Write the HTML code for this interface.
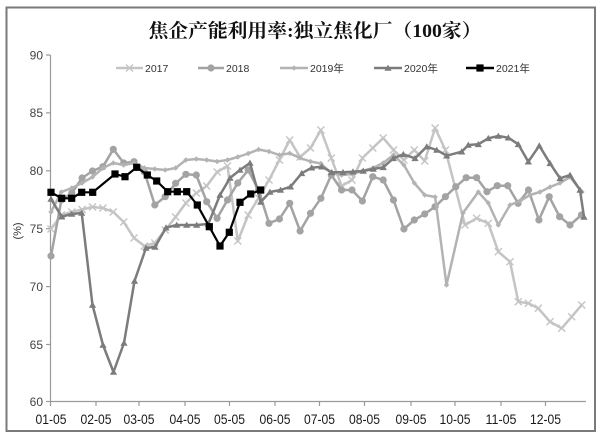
<!DOCTYPE html>
<html><head><meta charset="utf-8"><style>
html,body{margin:0;padding:0;background:#fff;}
svg{display:block;}
</style></head><body>
<svg width="600" height="439" viewBox="0 0 600 439" xmlns="http://www.w3.org/2000/svg">
<defs>
<marker id="mx" markerWidth="10" markerHeight="10" refX="5" refY="5" markerUnits="userSpaceOnUse"><path d="M1.5,1.5 L8.5,8.5 M8.5,1.5 L1.5,8.5" stroke="#c4c4c4" stroke-width="1.4" fill="none"/></marker>
<marker id="mc" markerWidth="10" markerHeight="10" refX="5" refY="5" markerUnits="userSpaceOnUse"><circle cx="5" cy="5" r="3.6" fill="#a3a3a3"/></marker>
<marker id="md" markerWidth="10" markerHeight="10" refX="5" refY="5" markerUnits="userSpaceOnUse"><path d="M5,2.3 L7.7,5 L5,7.7 L2.3,5Z" fill="#b3b3b3"/></marker>
<marker id="mt" markerWidth="10" markerHeight="10" refX="5" refY="5" markerUnits="userSpaceOnUse"><path d="M5,1.6 L8.6,7.8 L1.4,7.8Z" fill="#7c7c7c"/></marker>
<marker id="ms" markerWidth="10" markerHeight="10" refX="5" refY="5" markerUnits="userSpaceOnUse"><rect x="1.4" y="1.4" width="7.2" height="7.2" fill="#000"/></marker>
</defs>
<rect x="0" y="0" width="600" height="439" fill="#fff"/>
<rect x="6.5" y="7.5" width="588.5" height="423.5" fill="#fff" stroke="#7a7a7a" stroke-width="2"/>

<!-- Title -->
<text x="315" y="37" text-anchor="middle" font-family="'Liberation Serif','Noto Serif CJK SC',serif" font-weight="700" font-size="19" fill="#111" textLength="333" lengthAdjust="spacingAndGlyphs">焦企产能利用率:独立焦化厂（100家）</text>

<!-- Legend -->
<g font-family="'Liberation Sans','Noto Sans CJK SC',sans-serif" font-size="10.5" fill="#333">
<polyline points="116,68 129.5,68 143,68" stroke="#c4c4c4" stroke-width="2.5" fill="none" marker-mid="url(#mx)"/>
<text x="145" y="72">2017</text>
<polyline points="198,68 211,68 224,68" stroke="#a3a3a3" stroke-width="2.5" fill="none" marker-mid="url(#mc)"/>
<text x="226" y="72">2018</text>
<polyline points="280,68 294,68 308,68" stroke="#b3b3b3" stroke-width="2.5" fill="none" marker-mid="url(#md)"/>
<text x="310" y="72">2019年</text>
<polyline points="374,68 388,68 402,68" stroke="#7c7c7c" stroke-width="2.5" fill="none" marker-mid="url(#mt)"/>
<text x="404" y="72">2020年</text>
<polyline points="466,68 480,68 494,68" stroke="#000" stroke-width="2.5" fill="none" marker-mid="url(#ms)"/>
<text x="496" y="72">2021年</text>
</g>

<!-- Axes -->
<g stroke="#9a9a9a" stroke-width="1.2" fill="none">
<line x1="50.5" y1="55" x2="50.5" y2="402"/>
<line x1="50" y1="401.5" x2="586" y2="401.5"/>
<line x1="46" y1="55" x2="50.5" y2="55"/>
<line x1="46" y1="112.9" x2="50.5" y2="112.9"/>
<line x1="46" y1="170.8" x2="50.5" y2="170.8"/>
<line x1="46" y1="228.7" x2="50.5" y2="228.7"/>
<line x1="46" y1="286.6" x2="50.5" y2="286.6"/>
<line x1="46" y1="344.5" x2="50.5" y2="344.5"/>
<line x1="46" y1="401.5" x2="50.5" y2="401.5"/>
<line x1="50.5" y1="401.5" x2="50.5" y2="406"/>
<line x1="96" y1="401.5" x2="96" y2="406"/>
<line x1="139" y1="401.5" x2="139" y2="406"/>
<line x1="185" y1="401.5" x2="185" y2="406"/>
<line x1="229.5" y1="401.5" x2="229.5" y2="406"/>
<line x1="275" y1="401.5" x2="275" y2="406"/>
<line x1="319.5" y1="401.5" x2="319.5" y2="406"/>
<line x1="364.5" y1="401.5" x2="364.5" y2="406"/>
<line x1="411" y1="401.5" x2="411" y2="406"/>
<line x1="455" y1="401.5" x2="455" y2="406"/>
<line x1="501" y1="401.5" x2="501" y2="406"/>
<line x1="545.5" y1="401.5" x2="545.5" y2="406"/>
</g>

<!-- Y labels -->
<g font-family="'Liberation Sans',sans-serif" font-size="12" fill="#444" text-anchor="end">
<text x="43" y="59.3">90</text>
<text x="43" y="117.2">85</text>
<text x="43" y="175.1">80</text>
<text x="43" y="233">75</text>
<text x="43" y="290.9">70</text>
<text x="43" y="348.8">65</text>
<text x="43" y="405.8">60</text>
</g>
<text x="0" y="0" transform="translate(21,231) rotate(-90)" text-anchor="middle" font-family="'Liberation Sans',sans-serif" font-size="11" fill="#333">(%)</text>

<!-- X labels -->
<g font-family="'Liberation Sans',sans-serif" font-size="14" fill="#1a1a1a" text-anchor="middle">
<text x="51" y="424" textLength="31" lengthAdjust="spacingAndGlyphs">01-05</text>
<text x="96" y="424" textLength="31" lengthAdjust="spacingAndGlyphs">02-05</text>
<text x="139" y="424" textLength="31" lengthAdjust="spacingAndGlyphs">03-05</text>
<text x="185" y="424" textLength="31" lengthAdjust="spacingAndGlyphs">04-05</text>
<text x="229.5" y="424" textLength="31" lengthAdjust="spacingAndGlyphs">05-05</text>
<text x="275" y="424" textLength="31" lengthAdjust="spacingAndGlyphs">06-05</text>
<text x="319.5" y="424" textLength="31" lengthAdjust="spacingAndGlyphs">07-05</text>
<text x="364.5" y="424" textLength="31" lengthAdjust="spacingAndGlyphs">08-05</text>
<text x="411" y="424" textLength="31" lengthAdjust="spacingAndGlyphs">09-05</text>
<text x="455" y="424" textLength="31" lengthAdjust="spacingAndGlyphs">10-05</text>
<text x="501" y="424" textLength="31" lengthAdjust="spacingAndGlyphs">11-05</text>
<text x="545.5" y="424" textLength="31" lengthAdjust="spacingAndGlyphs">12-05</text>
</g>

<!-- 2017 -->
<polyline fill="none" stroke="#c4c4c4" stroke-width="2.5" stroke-linejoin="round" marker-start="url(#mx)" marker-mid="url(#mx)" marker-end="url(#mx)" points="51,229 61.4,215 71.8,212 82.1,209.5 92.5,207 102.9,208 113.3,212 123.7,222 134,238 144.4,246 154.8,243 165.2,230 175.6,217 185.9,203 196.3,193 206.7,186 217.1,172 227.5,166 237.8,241 248.2,215 258.6,198 269,180 279.4,160 289.7,140 300.1,157 310.5,148 320.9,130 331.3,158 341.6,186 352,180 362.4,158 372.8,148 383.2,138 393.5,150 403.9,160 414.3,150 424.7,161 435.1,128 445.4,150 465,225 476.7,218.3 488.3,223.3 498.3,251.7 510,261.7 518.3,301.7 528.3,303.3 538.3,308.3 550,321.7 561.7,328.3 571.7,316.7 581.7,305"/>

<!-- 2018 -->
<polyline fill="none" stroke="#a3a3a3" stroke-width="2.5" stroke-linejoin="round" marker-start="url(#mc)" marker-mid="url(#mc)" marker-end="url(#mc)" points="51,256 61.4,200 71.8,193 82.1,178 92.5,171 102.9,166.7 113.3,149.3 123.7,163 134,161.7 144.4,172 154.8,205 165.2,196.7 175.6,183.3 185.9,174.3 196.3,175 206.7,201.7 217.1,218.3 227.5,200 237.8,183 248.2,170 258.6,190 269,223.3 279.4,219 289.7,203.3 300.1,231 310.5,213.3 320.9,198.3 331.3,175 341.6,190 352,190 362.4,201 372.8,176.7 383.2,180 393.5,200 403.9,229 414.3,220 424.7,214 435.1,206.7 445.4,196.7 455.8,186.7 466.2,177.7 476.6,177.7 487,191.7 497.3,185.7 507.7,185.7 518.1,203.3 528.5,190 538.9,220 549.2,196.7 559.6,216.7 570,225 581.4,215"/>

<!-- 2019 -->
<polyline fill="none" stroke="#b3b3b3" stroke-width="2.5" stroke-linejoin="round" marker-start="url(#md)" marker-mid="url(#md)" marker-end="url(#md)" points="51,212 61.4,192 71.8,188 82.1,183 92.5,177 102.9,168 113.3,163 123.7,165 134,163 144.4,168 154.8,169 165.2,170 175.6,168 185.9,160 196.3,159 206.7,160 217.1,161.5 227.5,160 237.8,157 248.2,153.5 258.6,149.5 269,151.5 279.4,155 289.7,153.3 300.1,158 310.5,161.5 320.9,163.5 331.3,173 341.6,175 352,174 362.4,171 372.8,168 383.2,163 393.5,155 403.9,165 414.3,183 424.7,195 435.1,197 446.5,285 463,213 478.3,192 488.3,203 498.3,225 510,205 520,201 530,195 540,192 550,187 560,183 570,177 582,192"/>

<!-- 2020 -->
<polyline fill="none" stroke="#7c7c7c" stroke-width="2.5" stroke-linejoin="round" marker-start="url(#mt)" marker-mid="url(#mt)" marker-end="url(#mt)" points="51,199 61.7,216.7 71.7,214 81.7,213 92.5,305 103,345 113.5,372 124,343 134.5,281 146,248 155,247 166,227.7 176.7,225 186.7,225 196.7,225 208.3,224 220,195 230,178 240,170 250,163 260.7,202 270,192 280.5,190 290.5,186.7 301.7,173.3 311.7,167.7 321.7,166.7 331.7,172.3 343,172.3 353,171.7 363.3,171 373.3,169 383.3,167.3 393.3,158.3 403.3,154.3 415,158.3 426.7,146.7 436.7,150 446.7,155.7 461.7,151.7 468.3,145 478.3,144.3 488.3,138.3 498.3,136 508.3,137.7 518.3,144.3 528.3,161.7 539.3,145.7 550,163.3 560,178.3 570,175 580,190 584,217"/>

<!-- 2021 -->
<polyline fill="none" stroke="#000" stroke-width="2.2" stroke-linejoin="round" marker-start="url(#ms)" marker-mid="url(#ms)" marker-end="url(#ms)" points="51,192.3 61.7,198.3 71.7,198.3 81.7,192.3 92.7,192.3 115,174 125,176.7 136.7,167.3 147.3,175 156.7,181 167.7,191.7 177.3,191.7 186.7,191.7 197.3,205 209.3,226.7 220,246 229.3,232.3 240,202.3 250.7,194 260.7,190"/>
</svg>
</body></html>
